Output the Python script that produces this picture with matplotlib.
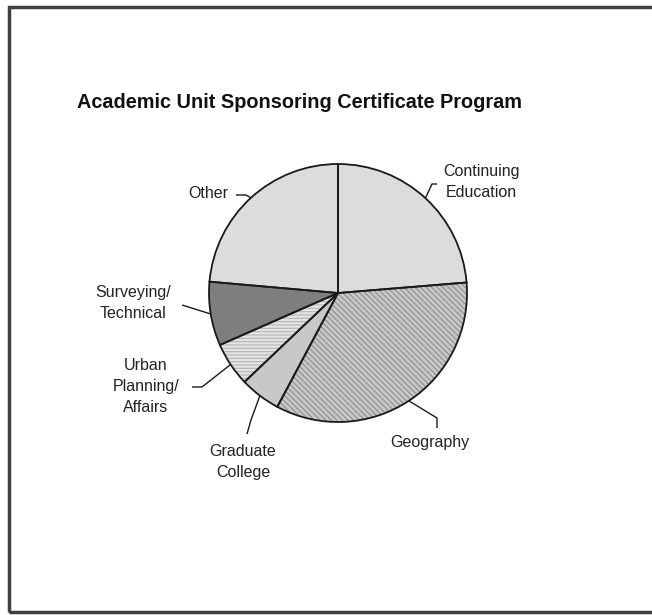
import numpy as np
import matplotlib
matplotlib.use("Agg")
import matplotlib.pyplot as plt
from matplotlib.patches import Rectangle

# Slice shares (percent), clockwise from 12 o'clock
units = ["Continuing\nEducation", "Geography", "Graduate\nCollege",
         "Urban\nPlanning/\nAffairs", "Surveying/\nTechnical", "Other"]
shares = [23.7, 34.1, 5.1, 5.5, 8.0, 23.6]

title = "Academic Unit Sponsoring Certificate Program"

# Fill styles per slice
fills = ["#dcdcdc", "#c8c8c8", "#c8c8c8", "#e4e4e4", "#7e7e7e", "#dcdcdc"]
hatches = [None, "\\" * 6, None, "-----", None, None]
hatch_colors = ["#dcdcdc", "#8c8c8c", "#c8c8c8", "#b4b4b4", "#7e7e7e", "#dcdcdc"]

W, H = 652, 615


def px(x, y):
    # picture pixel -> data coordinates (y up)
    return x, H - y


plt.rcParams["font.family"] = ["Liberation Sans", "DejaVu Sans"]
plt.rcParams["hatch.linewidth"] = 0.8

fig = plt.figure(figsize=(W / 100, H / 100), dpi=100)
ax = fig.add_axes([0, 0, 1, 1])

center = px(338, 293)
radius = 129

# hatched fills first (hatch colour follows edgecolor), outlines on top
fill_wedges, _ = ax.pie(shares, startangle=90, counterclock=False,
                        center=center, radius=radius, colors=fills,
                        wedgeprops=dict(linewidth=0))
for w, h, hc in zip(fill_wedges, hatches, hatch_colors):
    w.set_edgecolor(hc)
    if h:
        w.set_hatch(h)

outline, _ = ax.pie(shares, startangle=90, counterclock=False,
                    center=center, radius=radius,
                    colors=["none"] * len(shares),
                    wedgeprops=dict(linewidth=1.3, edgecolor="#1a1a1a"))

# label placement and leader bends (picture pixels)
label_pos = [(481, 182), (430, 442), (243, 462), (146, 387), (133, 303), (208, 193)]
bends = [[(432, 184), (437, 184)],
         [(437, 418), (437, 428)],
         [(251, 420), (247, 434)],
         [(202, 387), (192, 387)],
         [(182, 305)],
         [(246, 195), (236, 195)]]

for w, name, pos, bend in zip(outline, units, label_pos, bends):
    mid = np.deg2rad((w.theta1 + w.theta2) / 2)
    sx = center[0] + radius * np.cos(mid)
    sy = center[1] + radius * np.sin(mid)
    xs = [sx] + [px(*b)[0] for b in bend]
    ys = [sy] + [px(*b)[1] for b in bend]
    ax.plot(xs, ys, color="#1a1a1a", lw=1.0, solid_capstyle="butt")
    ax.text(*px(*pos), name, ha="center", va="center", fontsize=11.5,
            color="#222222", linespacing=1.5)

ax.text(*px(77, 103), title, ha="left", va="center", fontsize=14.3,
        fontweight="bold", color="#111111")

# page frame (right side runs off the picture)
ax.add_patch(Rectangle(px(9, 612), 700, 605, fill=False,
                       edgecolor="#404040", lw=2.5, clip_on=False))

ax.set_xlim(0, W)
ax.set_ylim(0, H)
ax.set_aspect("equal")
ax.axis("off")

fig.savefig("out.png", dpi=100, facecolor="white")
